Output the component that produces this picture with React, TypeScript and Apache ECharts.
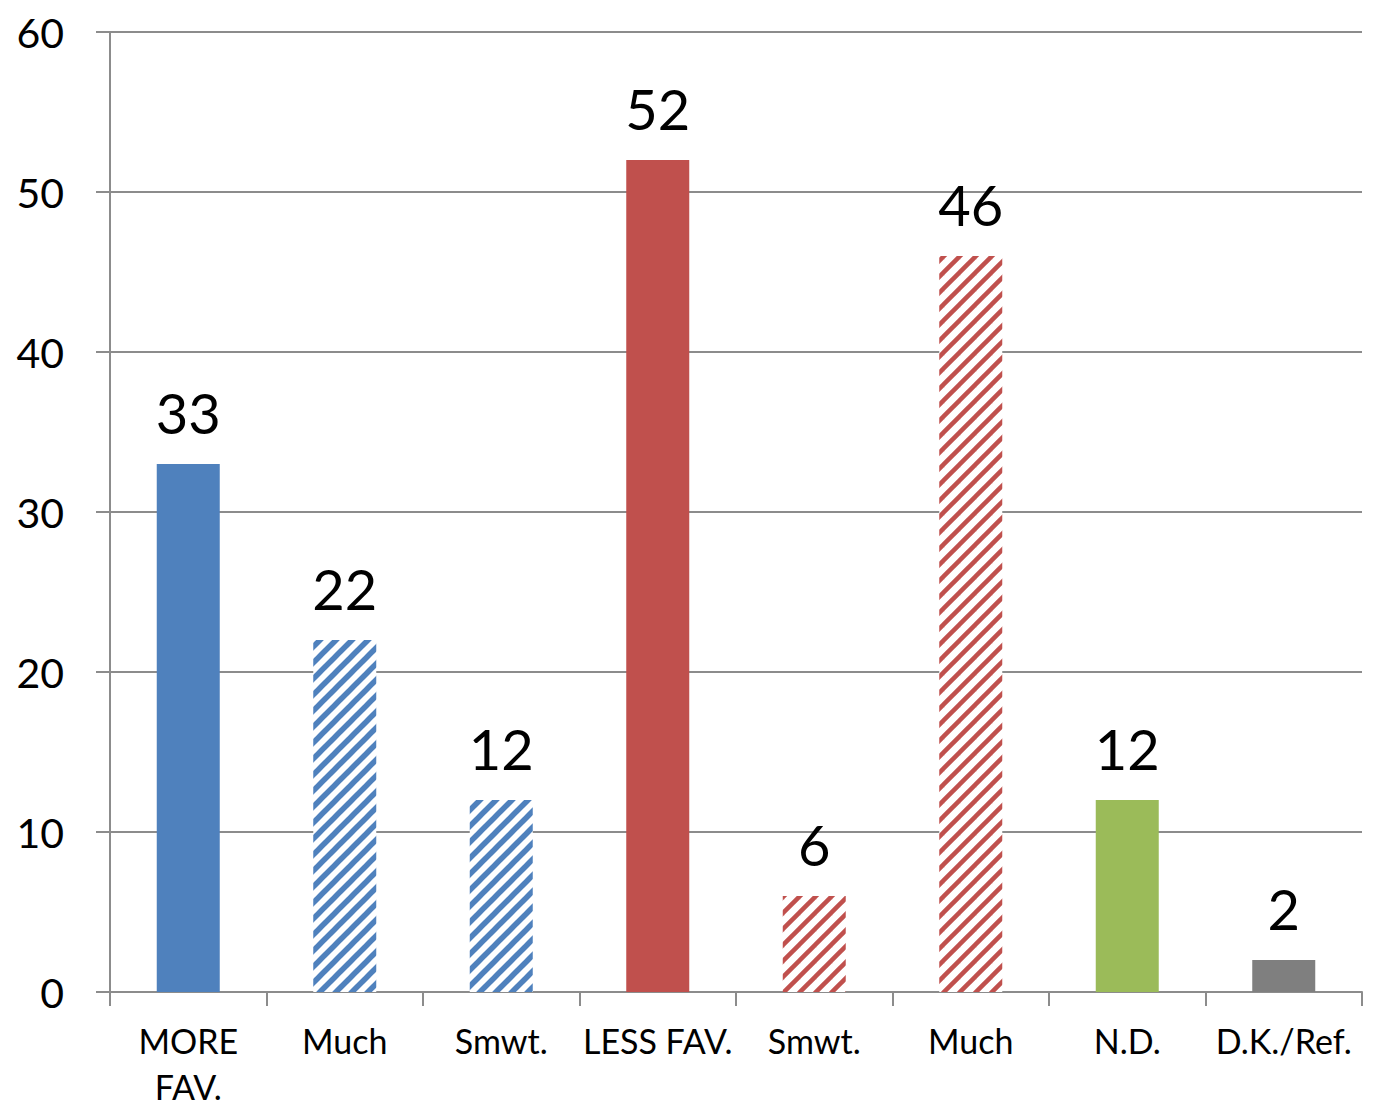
import React, { useEffect, useRef } from "react";
import * as echarts from "echarts";

const categories = ["MORE\nFAV.", "Much", "Smwt.", "LESS FAV.", "Smwt.", "Much", "N.D.", "D.K./Ref."];
const values = [33, 22, 12, 52, 6, 46, 12, 2];
const yTicks = { min: 0, max: 60, interval: 10 };

const BLUE = "#4f81bd";
const RED = "#c0504d";
const GREEN = "#9bbb59";
const GREY = "#7f7f7f";

function makeHatch(color: string, lw: number) {
  const S = 16;
  const c = document.createElement("canvas");
  c.width = S;
  c.height = S;
  const ctx = c.getContext("2d")!;
  ctx.fillStyle = "#ffffff";
  ctx.fillRect(0, 0, S, S);
  ctx.strokeStyle = color;
  ctx.lineWidth = lw;
  ctx.lineCap = "square";
  for (const o of [-S, 0, S]) {
    ctx.beginPath();
    ctx.moveTo(o - 2, S + 2);
    ctx.lineTo(o + S + 2, -2);
    ctx.stroke();
  }
  return { image: c, repeat: "repeat" } as any;
}

export default function App() {
  const ref = useRef<HTMLDivElement>(null);
  useEffect(() => {
    if (!ref.current) return;
    const chart = echarts.init(ref.current, undefined, { renderer: "svg" });
    const blueHatch = makeHatch(BLUE, 5.5);
    const redHatch = makeHatch(RED, 4.5);
    const fills = [BLUE, blueHatch, blueHatch, RED, redHatch, redHatch, GREEN, GREY];
    const font = "Lato, 'Open Sans', sans-serif";
    chart.setOption({
      animation: false,
      backgroundColor: "#ffffff",
      grid: { left: 110, right: 11, top: 32, bottom: 118, containLabel: false },
      xAxis: {
        type: "category",
        data: categories,
        axisLine: { lineStyle: { color: "#8c8c8c", width: 2 } },
        axisTick: { show: true, length: 14, lineStyle: { color: "#8c8c8c", width: 2 } },
        axisLabel: {
          color: "#000",
          fontFamily: font,
          fontSize: 34,
          margin: 25,
          lineHeight: 46,
          interval: 0,
        },
      },
      yAxis: {
        type: "value",
        min: yTicks.min,
        max: yTicks.max,
        interval: yTicks.interval,
        axisLine: { show: true, lineStyle: { color: "#8c8c8c", width: 2 } },
        axisTick: { show: true, length: 14, lineStyle: { color: "#8c8c8c", width: 2 } },
        splitLine: { show: true, lineStyle: { color: "#8c8c8c", width: 2 } },
        axisLabel: { color: "#000", fontFamily: font, fontSize: 41, margin: 46 },
      },
      series: [
        {
          type: "bar",
          barWidth: 63,
          data: values.map((v, i) => ({ value: v, itemStyle: { color: fills[i] } })),
          label: {
            show: true,
            position: "top",
            distance: 24,
            color: "#000",
            fontFamily: font,
            fontSize: 56,
          },
        },
      ],
    });
    return () => chart.dispose();
  }, []);
  return (
    <div
      ref={ref}
      style={{ position: "absolute", left: 0, top: 0, width: 1373, height: 1110 }}
    />
  );
}
